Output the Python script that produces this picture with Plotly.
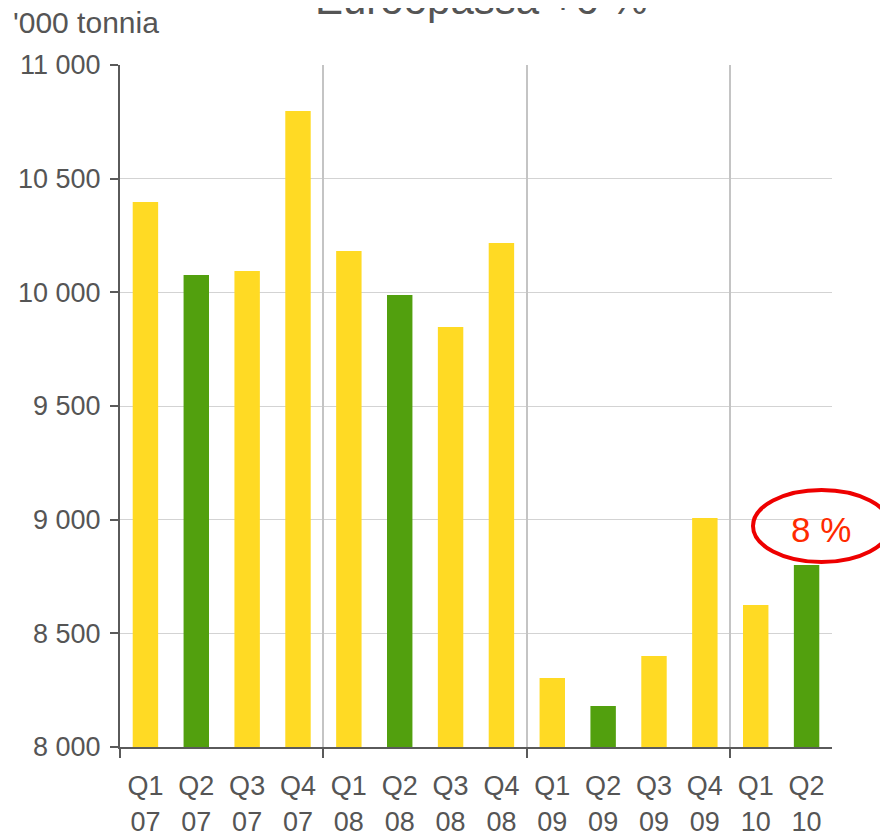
import plotly.graph_objects as go

categories = ["Q1<br>07", "Q2<br>07", "Q3<br>07", "Q4<br>07",
              "Q1<br>08", "Q2<br>08", "Q3<br>08", "Q4<br>08",
              "Q1<br>09", "Q2<br>09", "Q3<br>09", "Q4<br>09",
              "Q1<br>10", "Q2<br>10"]
values = [10397, 10076, 10094, 10798,
          10182, 9988, 9848, 10217,
          8304, 8180, 8400, 9007,
          8625, 8801]
highlight = [False, True, False, False,
             False, True, False, False,
             False, True, False, False,
             False, True]
y_tickvals = [8000, 8500, 9000, 9500, 10000, 10500, 11000]
y_ticktext = ["8 000", "8 500", "9 000", "9 500", "10 000", "10 500", "11 000"]
year_boundaries = [-0.5, 3.5, 7.5, 11.5]
title_text = "Euroopassa +6 %"
unit_text = "'000 tonnia"
callout_text = "8 %"

YELLOW = "#FFDA24"
GREEN = "#52A00E"
TEXT = "#555555"
AXIS = "#5a5a5a"

colors = [GREEN if h else YELLOW for h in highlight]

fig = go.Figure()
fig.add_trace(go.Bar(x=categories, y=values, marker=dict(color=colors, line=dict(width=0)),
                     width=0.5, showlegend=False, hoverinfo="x+y"))
fig.add_trace(go.Scatter(x=[], y=[], xaxis="x2", yaxis="y", showlegend=False, hoverinfo="skip"))

OFF = 8  # page body margin
W, H = 888 - OFF, 835 - OFF
L, T = 120 - OFF, 65 - OFF
R = 888 - 832
B = 835 - 747
pw, ph = W - L - R, H - T - B

def sx(px):
    return (px - OFF - L) / pw

def sy(py):
    return 1 - (py - OFF - T) / ph

fig.update_layout(
    width=W, height=H,
    margin=dict(l=L, r=R, t=T, b=B, autoexpand=False),
    paper_bgcolor="white", plot_bgcolor="white",
    font=dict(family="Liberation Sans, Arial, sans-serif", color=TEXT, size=27),
    xaxis=dict(type="category", range=[-0.5, 13.5], showgrid=False, ticks="",
               showline=True, linecolor=AXIS, linewidth=2, automargin=False,
               tickfont=dict(size=27, color=TEXT), ticklabelstandoff=14),
    xaxis2=dict(overlaying="x", side="bottom", range=[-0.5, 13.5], tickvals=year_boundaries,
                showticklabels=False, ticks="outside", ticklen=10, tickwidth=1.5, tickcolor=AXIS,
                showgrid=True, gridcolor="#C4C4C4", gridwidth=1.5, zeroline=False, showline=False,
                automargin=False),
    yaxis=dict(range=[8000, 11000], tickvals=y_tickvals, ticktext=y_ticktext,
               showgrid=True, gridcolor="#D3D3D3", gridwidth=1, zeroline=False,
               showline=True, linecolor=AXIS, linewidth=2, automargin=False,
               ticks="outside", ticklen=8, tickwidth=1.5, tickcolor=AXIS,
               tickfont=dict(size=27, color=TEXT), ticklabelstandoff=4),
    bargap=0.5,
)

fig.add_annotation(text=title_text, xref="paper", yref="paper",
                   x=sx(481), y=sy(25), xanchor="center", yanchor="bottom",
                   showarrow=False, font=dict(size=42, color=TEXT))
fig.add_annotation(text=unit_text, xref="paper", yref="paper",
                   x=sx(11), y=sy(22), xanchor="left", yanchor="middle",
                   showarrow=False, font=dict(size=30, color=TEXT))

fig.add_shape(type="circle", xref="paper", yref="paper",
              x0=sx(753), x1=sx(890),
              y0=sy(562), y1=sy(490),
              line=dict(color="#EE0000", width=4), layer="above")
fig.add_annotation(text=callout_text, xref="paper", yref="paper",
                   x=sx(821), y=sy(529), xanchor="center", yanchor="middle",
                   showarrow=False, font=dict(size=35, color="#FF2A00"))

fig.write_html("out.html")
